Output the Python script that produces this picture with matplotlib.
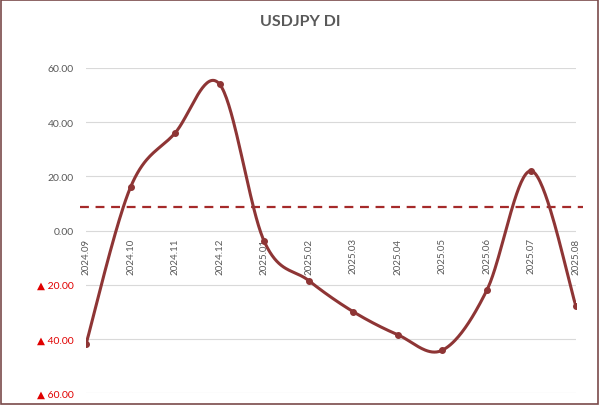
import numpy as np
import matplotlib
matplotlib.use("Agg")
import matplotlib.pyplot as plt
from matplotlib.patches import Rectangle

plt.rcParams["font.family"] = ["Lato", "DejaVu Sans"]

categories = ["2024.09", "2024.10", "2024.11", "2024.12", "2025.01", "2025.02",
              "2025.03", "2025.04", "2025.05", "2025.06", "2025.07", "2025.08"]
values = [-42.0, 16.0, 36.0, 54.0, -4.0, -18.5, -30.0, -38.5, -44.2, -22.0, 22.0, -28.0]
threshold = 8.5
yticks = [-60, -40, -20, 0, 20, 40, 60]

line_color = "#8E3535"
text_gray = "#595959"


def smooth(xs, ys, n=40):
    P = np.column_stack([xs, ys]).astype(float)
    ext = np.vstack([P[0], P, P[-1]])
    out = []
    for i in range(len(P) - 1):
        p0, p1, p2, p3 = ext[i], ext[i + 1], ext[i + 2], ext[i + 3]
        b1 = p1 + (p2 - p0) / 6.0
        b2 = p2 - (p3 - p1) / 6.0
        t = np.linspace(0, 1, n)[:, None]
        seg = ((1 - t) ** 3) * p1 + 3 * ((1 - t) ** 2) * t * b1 + 3 * (1 - t) * t ** 2 * b2 + t ** 3 * p2
        out.append(seg if i == 0 else seg[1:])
    s = np.vstack(out)
    return s[:, 0], s[:, 1]


fig = plt.figure(figsize=(6.0, 4.06), dpi=100)
fig.patch.set_facecolor("white")
fig.patches.append(Rectangle((0.002, 0.003), 0.995, 0.994, transform=fig.transFigure,
                             fill=False, edgecolor="#7A4A4A", linewidth=1.2))

ax = fig.add_axes([86 / 600, (406 - 394) / 406, (576 - 86) / 600, (394 - 69) / 406])
x = np.arange(len(categories))
sx, sy = smooth(x, values)
ax.plot(sx, sy, color=line_color, linewidth=2.2, solid_capstyle="round", zorder=3)
ax.plot(x, values, "o", color=line_color, markersize=4, zorder=4)
ax.axhline(threshold, color="#A52A2A", linestyle=(0, (4, 3)), linewidth=1.6, zorder=2,
           xmin=-0.012, xmax=1.014, clip_on=False)

ax.set_xlim(0, len(categories) - 1)
ax.set_ylim(-60, 60)
ax.set_yticks(yticks)
ax.grid(axis="y", color="#D9D9D9", linewidth=0.8)
ax.set_axisbelow(True)
for s in ["top", "right", "left"]:
    ax.spines[s].set_visible(False)
ax.spines["bottom"].set_position(("data", 0))
ax.spines["bottom"].set_visible(False)

ax.set_xticks(x)
ax.set_xticklabels(categories, rotation=90, va="top", ha="center", fontsize=7, color=text_gray)
ax.tick_params(axis="x", length=0, pad=5)
ax.tick_params(axis="y", length=0, pad=9)

labels = []
for v in yticks:
    if v < 0:
        labels.append("\u25B2 %.2f" % abs(v))
    else:
        labels.append("%.2f" % v)
ax.set_yticklabels(labels, fontsize=7.5)
for lab, v in zip(ax.get_yticklabels(), yticks):
    lab.set_color("#E00000" if v < 0 else text_gray)

fig.text(0.5, 0.945, "USDJPY DI", ha="center", va="center", fontsize=11.5,
         fontweight="bold", color=text_gray)

fig.savefig("out.png", dpi=100)
